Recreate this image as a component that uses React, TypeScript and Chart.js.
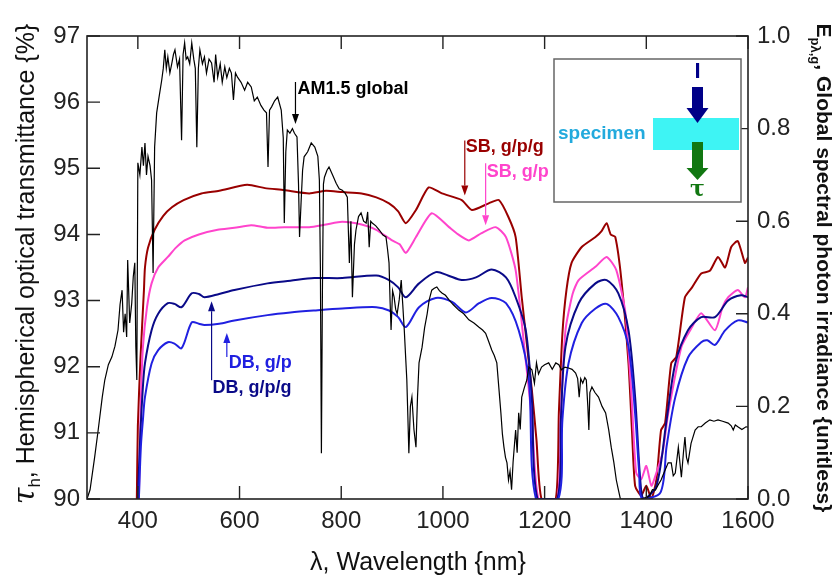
import { useEffect, useRef } from 'react';
import { Chart, registerables } from 'chart.js';

Chart.register(...registerables);

// ---------- tick values ----------
const xTicks = [400, 600, 800, 1000, 1200, 1400, 1600];
const yTicks = [90, 91, 92, 93, 94, 95, 96, 97];
const y1Ticks = [0, 0.2, 0.4, 0.6, 0.8, 1.0];

// ---------- AM1.5 global (right axis, unitless) ----------
const am15Wl = [300, 306, 315, 322, 330, 335, 342, 349, 355, 361, 365, 369, 372, 375, 378, 380, 384, 388, 391, 394, 396, 398, 400, 404, 408, 411, 414, 417, 420, 424, 427, 430, 433, 437, 442, 447, 450, 453, 456, 459, 463, 467, 470, 473, 478, 482, 486, 489, 492, 495, 498, 502, 506, 510, 513, 516, 519, 522, 527, 531, 535, 540, 545, 550, 553, 557, 562, 566, 571, 575, 580, 584, 588, 592, 596, 603, 610, 616, 623, 629, 635, 642, 648, 653, 656, 659, 663, 669, 675, 682, 686, 688, 691, 694, 699, 704, 708, 713, 716, 718, 721, 724, 727, 734, 741, 748, 754, 757, 759, 761, 763, 765, 767, 772, 776, 783, 790, 796, 802, 808, 812, 816, 819, 822, 826, 829, 834, 839, 844, 849, 852, 855, 858, 861, 868, 875, 882, 888, 891, 894, 896, 898, 901, 904, 907, 910, 914, 918, 921, 924, 927, 929, 931, 933, 936, 939, 943, 947, 950, 953, 959, 964, 969, 973, 978, 983, 988, 993, 998, 1005, 1012, 1020, 1031, 1041, 1051, 1061, 1071, 1078, 1084, 1090, 1096, 1101, 1106, 1110, 1114, 1117, 1120, 1123, 1126, 1129, 1132, 1135, 1138, 1143, 1146, 1149, 1152, 1155, 1160, 1165, 1169, 1175, 1180, 1184, 1188, 1194, 1200, 1208, 1215, 1222, 1228, 1233, 1240, 1247, 1254, 1261, 1265, 1268, 1271, 1275, 1279, 1282, 1285, 1287, 1289, 1293, 1299, 1306, 1313, 1320, 1326, 1331, 1336, 1341, 1345, 1349, 1390, 1405, 1412, 1418, 1423, 1429, 1436, 1443, 1449, 1453, 1457, 1463, 1469, 1473, 1476, 1479, 1482, 1488, 1496, 1502, 1508, 1516, 1525, 1533, 1541, 1550, 1561, 1567, 1571, 1575, 1580, 1588, 1596, 1600];
const am15E = [0.0, 0.02, 0.09, 0.149, 0.22, 0.257, 0.29, 0.307, 0.33, 0.365, 0.42, 0.451, 0.36, 0.4, 0.35, 0.516, 0.38, 0.423, 0.48, 0.51, 0.33, 0.257, 0.726, 0.7, 0.76, 0.72, 0.769, 0.7, 0.74, 0.72, 0.689, 0.488, 0.76, 0.834, 0.87, 0.905, 0.93, 0.97, 0.93, 0.955, 0.92, 0.942, 0.96, 0.97, 0.933, 0.95, 0.775, 0.96, 0.985, 0.95, 0.955, 0.94, 0.985, 0.95, 0.93, 0.76, 0.93, 0.97, 0.94, 0.955, 0.92, 0.95, 0.942, 0.9, 0.96, 0.911, 0.94, 0.9, 0.933, 0.91, 0.93, 0.92, 0.862, 0.92, 0.911, 0.9, 0.883, 0.9, 0.89, 0.86, 0.868, 0.85, 0.84, 0.834, 0.717, 0.84, 0.847, 0.86, 0.868, 0.84, 0.78, 0.596, 0.75, 0.797, 0.79, 0.8, 0.79, 0.782, 0.68, 0.566, 0.64, 0.71, 0.739, 0.75, 0.769, 0.76, 0.74, 0.689, 0.5, 0.099, 0.45, 0.68, 0.695, 0.71, 0.717, 0.7, 0.682, 0.67, 0.667, 0.66, 0.652, 0.51, 0.6, 0.436, 0.55, 0.581, 0.61, 0.618, 0.6, 0.596, 0.62, 0.544, 0.6, 0.596, 0.59, 0.581, 0.57, 0.566, 0.54, 0.51, 0.43, 0.365, 0.45, 0.436, 0.41, 0.4, 0.43, 0.473, 0.42, 0.365, 0.3, 0.257, 0.18, 0.099, 0.2, 0.22, 0.15, 0.112, 0.22, 0.294, 0.328, 0.37, 0.4, 0.43, 0.451, 0.455, 0.458, 0.45, 0.445, 0.44, 0.43, 0.42, 0.408, 0.4, 0.387, 0.38, 0.371, 0.365, 0.358, 0.34, 0.322, 0.31, 0.294, 0.24, 0.186, 0.14, 0.112, 0.09, 0.078, 0.041, 0.06, 0.02, 0.08, 0.149, 0.1, 0.186, 0.15, 0.22, 0.24, 0.257, 0.285, 0.279, 0.25, 0.294, 0.27, 0.285, 0.29, 0.294, 0.28, 0.294, 0.29, 0.279, 0.285, 0.283, 0.28, 0.272, 0.26, 0.22, 0.26, 0.25, 0.262, 0.257, 0.2, 0.149, 0.23, 0.242, 0.23, 0.22, 0.2, 0.186, 0.15, 0.112, 0.08, 0.041, 0.02, 0.0, 0.0, 0.005, 0.02, 0.019, 0.03, 0.041, 0.06, 0.078, 0.078, 0.05, 0.056, 0.112, 0.047, 0.1, 0.134, 0.09, 0.078, 0.12, 0.149, 0.156, 0.156, 0.164, 0.171, 0.168, 0.171, 0.168, 0.164, 0.158, 0.149, 0.16, 0.156, 0.15, 0.156, 0.155];

// ---------- SB, g/p/g ----------
const sbGpgWl = [398, 400, 405, 412, 414, 420, 433, 450, 467, 490, 525, 560, 615, 650, 688, 737, 770, 802, 840, 869, 894, 912, 927, 947, 972, 998, 1037, 1057, 1090, 1110, 1129, 1143, 1155, 1175, 1184, 1194, 1222, 1228, 1235, 1243, 1253, 1273, 1300, 1312, 1322, 1330, 1339, 1351, 1365, 1372, 1378, 1390, 1400, 1410, 1420, 1429, 1437, 1449, 1459, 1476, 1490, 1508, 1525, 1541, 1555, 1567, 1580, 1594, 1600];
const sbGpgT = [90.0, 91.1, 92.1, 93.16, 93.5, 93.8, 94.07, 94.28, 94.41, 94.52, 94.62, 94.66, 94.75, 94.7, 94.67, 94.62, 94.66, 94.64, 94.62, 94.56, 94.47, 94.35, 94.17, 94.37, 94.71, 94.62, 94.52, 94.37, 94.47, 94.52, 94.26, 93.96, 93.05, 91.64, 90.89, 90.0, 90.0, 91.3, 92.5, 93.16, 93.57, 93.81, 93.96, 94.05, 94.17, 94.0, 93.96, 93.31, 92.05, 91.0, 90.2, 90.05, 90.2, 90.0, 90.3, 91.04, 91.15, 92.05, 92.15, 93.05, 93.2, 93.41, 93.45, 93.66, 93.5, 93.81, 93.9, 93.57, 93.65];

// ---------- SB, g/p ----------
const sbGpWl = [402, 406, 410, 418, 427, 440, 459, 475, 492, 520, 557, 590, 623, 655, 688, 737, 770, 802, 840, 869, 900, 915, 927, 947, 978, 1012, 1030, 1051, 1076, 1104, 1124, 1143, 1160, 1175, 1188, 1225, 1232, 1241, 1255, 1267, 1300, 1322, 1341, 1359, 1371, 1380, 1390, 1400, 1410, 1420, 1432, 1443, 1469, 1490, 1508, 1535, 1550, 1561, 1580, 1594, 1600];
const sbGpT = [90.0, 91.5, 92.3, 92.9, 93.26, 93.5, 93.66, 93.8, 93.91, 94.0, 94.07, 94.1, 94.14, 94.1, 94.11, 94.11, 94.15, 94.19, 94.15, 94.07, 93.91, 93.85, 93.72, 93.96, 94.32, 94.11, 94.0, 93.91, 94.02, 94.11, 93.96, 93.46, 92.3, 91.2, 90.0, 90.0, 91.3, 92.55, 93.1, 93.31, 93.51, 93.66, 93.46, 92.81, 91.54, 90.4, 90.3, 90.5, 90.2, 90.4, 90.7, 91.29, 92.3, 92.6, 92.81, 92.55, 92.9, 93.05, 93.16, 93.05, 93.2];

// ---------- DB, g/p/g ----------
const dbGpgWl = [400, 405, 410, 414, 427, 440, 459, 472, 486, 506, 520, 531, 560, 590, 655, 700, 747, 802, 869, 894, 912, 927, 953, 986, 1010, 1037, 1065, 1096, 1124, 1143, 1163, 1175, 1186, 1225, 1232, 1241, 1267, 1300, 1322, 1345, 1365, 1378, 1388, 1395, 1420, 1440, 1457, 1482, 1508, 1535, 1561, 1586, 1600];
const dbGpgT = [90.0, 91.0, 91.7, 92.05, 92.55, 92.8, 92.96, 92.95, 92.9, 93.11, 93.1, 93.05, 93.1, 93.16, 93.26, 93.3, 93.34, 93.34, 93.38, 93.31, 93.2, 93.05, 93.26, 93.43, 93.38, 93.31, 93.35, 93.47, 93.35, 93.05, 92.55, 91.5, 90.0, 90.0, 91.2, 92.3, 92.96, 93.26, 93.31, 93.11, 92.55, 91.54, 90.3, 90.0, 90.2, 91.2, 92.05, 92.55, 92.75, 92.75, 93.0, 93.08, 93.05];

// ---------- DB, g/p ----------
const dbGpWl = [402, 406, 410, 414, 427, 440, 459, 472, 486, 506, 520, 531, 560, 590, 655, 700, 747, 802, 869, 894, 912, 927, 953, 986, 1018, 1045, 1071, 1096, 1124, 1149, 1169, 1183, 1227, 1235, 1247, 1273, 1300, 1322, 1345, 1365, 1378, 1386, 1392, 1428, 1440, 1457, 1482, 1508, 1520, 1535, 1555, 1580, 1600];
const dbGpT = [90.0, 90.8, 91.2, 91.54, 92.05, 92.25, 92.37, 92.35, 92.28, 92.67, 92.65, 92.63, 92.65, 92.7, 92.78, 92.82, 92.85, 92.88, 92.9, 92.85, 92.75, 92.6, 92.9, 93.04, 92.98, 92.82, 92.96, 93.04, 92.96, 92.55, 91.8, 90.0, 90.0, 91.2, 92.05, 92.66, 92.88, 92.95, 92.75, 92.3, 91.29, 90.4, 90.0, 90.1, 90.8, 91.54, 92.14, 92.37, 92.4, 92.33, 92.55, 92.7, 92.67];

const C_SBGPG = '#990000';
const C_SBGP = '#FF44CC';
const C_DBGPG = '#0A0A88';
const C_DBGP = '#2020E0';

const FONT = '"Liberation Sans", Arial, sans-serif';

const toXY = (xs: number[], ys: number[]) => xs.map((x, i) => ({ x, y: ys[i] }));

type Ann = { text: string; color: string; wl: number; val: number; axis: 'y' | 'y1'; tail: number; tx: number; ty: number };
const annotations: Ann[] = [
  { text: 'AM1.5 global', color: '#000000', wl: 710, val: 0.81, axis: 'y1', tail: -42, tx: 2, ty: -35 },
  { text: 'SB, g/p/g', color: C_SBGPG, wl: 1043, val: 94.59, axis: 'y', tail: -55, tx: 1, ty: -48 },
  { text: 'SB, g/p', color: C_SBGP, wl: 1084, val: 94.14, axis: 'y', tail: -62, tx: 1, ty: -53 },
  { text: 'DB, g/p/g', color: C_DBGPG, wl: 545, val: 92.99, axis: 'y', tail: 79, tx: 1, ty: 87 },
  { text: 'DB, g/p', color: C_DBGP, wl: 575, val: 92.51, axis: 'y', tail: 24, tx: 2, ty: 30 },
];

function drawArrow(ctx: CanvasRenderingContext2D, x: number, yTail: number, yTip: number, color: string) {
  const dir = yTip > yTail ? 1 : -1;
  const head = 10;
  ctx.strokeStyle = color;
  ctx.fillStyle = color;
  ctx.lineWidth = 1.2;
  ctx.beginPath();
  ctx.moveTo(x, yTail);
  ctx.lineTo(x, yTip - dir * head);
  ctx.stroke();
  ctx.beginPath();
  ctx.moveTo(x, yTip);
  ctx.lineTo(x - 3.5, yTip - dir * head);
  ctx.lineTo(x + 3.5, yTip - dir * head);
  ctx.closePath();
  ctx.fill();
}

type Run = { t: string; font: string; dy: number };
function drawRuns(ctx: CanvasRenderingContext2D, runs: Run[], startX: number) {
  let x = startX;
  for (const r of runs) {
    ctx.font = r.font;
    ctx.fillText(r.t, x, r.dy);
    x += ctx.measureText(r.t).width;
  }
}
function runsWidth(ctx: CanvasRenderingContext2D, runs: Run[]) {
  let w = 0;
  for (const r of runs) {
    ctx.font = r.font;
    w += ctx.measureText(r.t).width;
  }
  return w;
}

const decorPlugin = {
  id: 'decor',
  afterDatasetsDraw(chart: any) {
    const { ctx, chartArea: a, scales } = chart;
    const sx = scales.x, sy = scales.y, sy1 = scales.y1;
    ctx.save();

    // frame
    ctx.strokeStyle = '#222';
    ctx.lineWidth = 1.6;
    ctx.strokeRect(a.left, a.top, a.right - a.left, a.bottom - a.top);

    // inward ticks
    ctx.lineWidth = 1.4;
    ctx.beginPath();
    xTicks.forEach((v) => {
      const p = sx.getPixelForValue(v);
      ctx.moveTo(p, a.bottom); ctx.lineTo(p, a.bottom - 13);
      ctx.moveTo(p, a.top); ctx.lineTo(p, a.top + 13);
    });
    yTicks.forEach((v) => {
      const p = sy.getPixelForValue(v);
      ctx.moveTo(a.left, p); ctx.lineTo(a.left + 13, p);
    });
    y1Ticks.forEach((v) => {
      const p = sy1.getPixelForValue(v);
      ctx.moveTo(a.right, p); ctx.lineTo(a.right - 12, p);
    });
    ctx.stroke();

    // inset schematic
    const bl = a.right - 194, bt = a.top + 23, bw = 187, bh = 143;
    ctx.fillStyle = '#ffffff';
    ctx.fillRect(bl, bt, bw, bh);
    ctx.strokeStyle = '#666';
    ctx.lineWidth = 1.5;
    ctx.strokeRect(bl, bt, bw, bh);
    ctx.fillStyle = '#3EF4F4';
    ctx.fillRect(bl + 99, bt + 59, 86, 32);
    ctx.fillStyle = '#22AADD';
    ctx.font = `bold 19px ${FONT}`;
    ctx.textBaseline = 'middle';
    ctx.textAlign = 'left';
    ctx.fillText('specimen', bl + 4, bt + 75);
    const cx = bl + 143.5;
    ctx.fillStyle = '#000088';
    ctx.textAlign = 'center';
    ctx.font = `bold 22px ${FONT}`;
    ctx.fillText('I', cx, bt + 13);
    ctx.fillRect(cx - 5.5, bt + 28, 11, 22);
    ctx.beginPath();
    ctx.moveTo(cx - 11, bt + 49); ctx.lineTo(cx + 11, bt + 49); ctx.lineTo(cx, bt + 64); ctx.closePath(); ctx.fill();
    ctx.fillStyle = '#117711';
    ctx.fillRect(cx - 5.5, bt + 83, 11, 27);
    ctx.beginPath();
    ctx.moveTo(cx - 11, bt + 109); ctx.lineTo(cx + 11, bt + 109); ctx.lineTo(cx, bt + 121); ctx.closePath(); ctx.fill();
    ctx.font = `bold 22px "DejaVu Serif", serif`;
    ctx.fillText('τ', cx, bt + 131);

    // annotations
    ctx.textAlign = 'left';
    ctx.textBaseline = 'middle';
    annotations.forEach((an) => {
      const px = sx.getPixelForValue(an.wl);
      const py = (an.axis === 'y' ? sy : sy1).getPixelForValue(an.val);
      drawArrow(ctx, px, py + an.tail, py, an.color);
      ctx.fillStyle = an.color;
      ctx.font = `bold 18px ${FONT}`;
      ctx.fillText(an.text, px + an.tx, py + an.ty);
    });

    // axis titles
    ctx.fillStyle = '#111';
    ctx.textBaseline = 'alphabetic';
    ctx.textAlign = 'left';
    ctx.font = `25px ${FONT}`;
    const xt = 'λ, Wavelength {nm}';
    const xw = ctx.measureText(xt).width;
    ctx.fillText(xt, 418 - xw / 2, 570);

    const leftRuns: Run[] = [
      { t: 'τ', font: `italic 30px "DejaVu Serif", serif`, dy: 0 },
      { t: 'h', font: `17px ${FONT}`, dy: 6 },
      { t: ', Hemispherical optical transmittance {%}', font: `25px ${FONT}`, dy: 0 },
    ];
    ctx.save();
    ctx.translate(34, 264);
    ctx.rotate(-Math.PI / 2);
    const lw = runsWidth(ctx, leftRuns);
    drawRuns(ctx, leftRuns, -lw / 2);
    ctx.restore();

    const rightRuns: Run[] = [
      { t: 'E', font: `bold 21px ${FONT}`, dy: 0 },
      { t: 'pλ,g', font: `bold 13px ${FONT}`, dy: 6 },
      { t: ', Global spectral photon irradiance {unitless}', font: `bold 21px ${FONT}`, dy: 0 },
    ];
    ctx.save();
    ctx.translate(817, 268);
    ctx.rotate(Math.PI / 2);
    const rw = runsWidth(ctx, rightRuns);
    drawRuns(ctx, rightRuns, -rw / 2);
    ctx.restore();

    ctx.restore();
  },
};

export default function App() {
  const ref = useRef<HTMLCanvasElement | null>(null);
  useEffect(() => {
    if (!ref.current) return;
    const tickFont = { family: FONT, size: 24 };
    const chart = new Chart(ref.current, {
      type: 'line',
      data: {
        datasets: [
          { label: 'AM1.5 global', data: toXY(am15Wl, am15E), yAxisID: 'y1', borderColor: '#000000', borderWidth: 1.2, pointRadius: 0, tension: 0 },
          { label: 'DB, g/p', data: toXY(dbGpWl, dbGpT), yAxisID: 'y', borderColor: C_DBGP, borderWidth: 2, pointRadius: 0, tension: 0.3 },
          { label: 'DB, g/p/g', data: toXY(dbGpgWl, dbGpgT), yAxisID: 'y', borderColor: C_DBGPG, borderWidth: 2, pointRadius: 0, tension: 0.3 },
          { label: 'SB, g/p', data: toXY(sbGpWl, sbGpT), yAxisID: 'y', borderColor: C_SBGP, borderWidth: 2, pointRadius: 0, tension: 0.2 },
          { label: 'SB, g/p/g', data: toXY(sbGpgWl, sbGpgT), yAxisID: 'y', borderColor: C_SBGPG, borderWidth: 2, pointRadius: 0, tension: 0.2 },
        ],
      },
      options: {
        responsive: false,
        animation: false,
        events: [],
        layout: { padding: { top: 36, left: 0, right: 0, bottom: 0 } },
        plugins: { legend: { display: false }, tooltip: { enabled: false }, title: { display: false } },
        scales: {
          x: {
            type: 'linear', min: 300, max: 1600,
            afterBuildTicks: (s: any) => { s.ticks = xTicks.map((v) => ({ value: v })); },
            afterFit: (s: any) => { s.height = 78; },
            grid: { display: false, drawTicks: false, tickLength: 0 },
            border: { display: false },
            ticks: { font: tickFont, color: '#222', padding: 8, maxRotation: 0, autoSkip: false, callback: (v: any) => String(v) },
          },
          y: {
            type: 'linear', position: 'left', min: 90, max: 97,
            afterBuildTicks: (s: any) => { s.ticks = yTicks.map((v) => ({ value: v })); },
            afterFit: (s: any) => { s.width = 87; },
            grid: { display: false, drawTicks: false, tickLength: 0 },
            border: { display: false },
            ticks: { font: tickFont, color: '#222', padding: 7, callback: (v: any) => String(v) },
          },
          y1: {
            type: 'linear', position: 'right', min: 0, max: 1,
            afterBuildTicks: (s: any) => { s.ticks = y1Ticks.map((v) => ({ value: v })); },
            afterFit: (s: any) => { s.width = 92; },
            grid: { display: false, drawTicks: false, tickLength: 0 },
            border: { display: false },
            ticks: { font: tickFont, color: '#222', padding: 9, callback: (v: any) => Number(v).toFixed(1) },
          },
        },
      },
      plugins: [decorPlugin],
    } as any);
    return () => chart.destroy();
  }, []);
  return (
    <div style={{ position: 'absolute', left: 0, top: 0, width: 840, height: 577, background: '#fff' }}>
      <canvas ref={ref} width={840} height={577} style={{ width: 840, height: 577 }} />
    </div>
  );
}
